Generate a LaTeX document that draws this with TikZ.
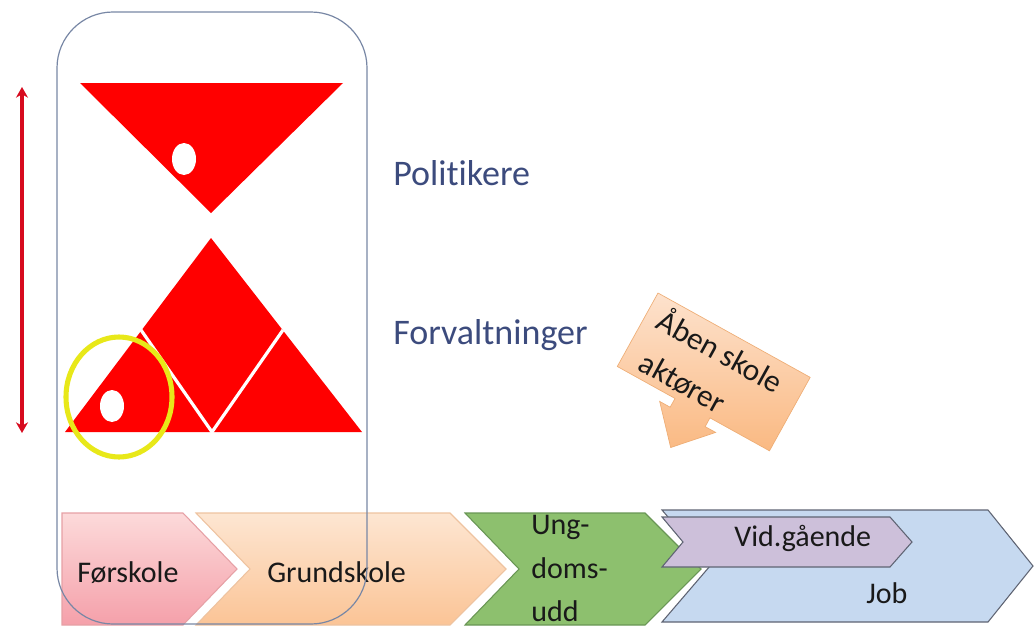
\documentclass[tikz,border=0pt]{standalone}
\usepackage{fontspec}
\setmainfont{Carlito}[Ligatures={NoCommon}]
\usetikzlibrary{arrows.meta}
\definecolor{shapered}{RGB}{255,0,0}
\definecolor{arrowred}{RGB}{215,10,30}
\definecolor{hiyellow}{RGB}{232,232,25}
\definecolor{labelblue}{RGB}{60,75,125}
\definecolor{frameline}{RGB}{120,135,165}
\definecolor{pinktop}{RGB}{252,218,218}
\definecolor{pinkbot}{RGB}{245,160,170}
\definecolor{pinkline}{RGB}{230,160,165}
\definecolor{peachtop}{RGB}{253,230,210}
\definecolor{peachbot}{RGB}{251,196,150}
\definecolor{peachline}{RGB}{238,195,160}
\definecolor{greenfill}{RGB}{141,192,110}
\definecolor{greenline}{RGB}{105,150,85}
\definecolor{bluefill}{RGB}{198,217,240}
\definecolor{purplefill}{RGB}{205,192,218}
\definecolor{grayline}{RGB}{95,100,115}
\definecolor{calltop}{RGB}{253,226,205}
\definecolor{callbot}{RGB}{250,185,130}
\definecolor{textdark}{RGB}{25,25,25}
\begin{document}
\begin{tikzpicture}[x=0.75pt,y=-0.75pt,
  bigtext/.style={text=labelblue,font=\fontsize{27}{32}\selectfont,inner sep=0pt,anchor=base west},
  chevtext/.style={text=textdark,font=\fontsize{22.5}{32}\selectfont,inner sep=0pt,anchor=base west},
  calltext/.style={text=textdark,font=\fontsize{23.5}{34}\selectfont,inner sep=0pt,align=left,anchor=north west,rotate=-29},
  chevline/.style={line width=0.8pt},
  redshape/.style={fill=shapered},
  whitehole/.style={fill=white},
]
\useasboundingbox (0,0) rectangle (1035,628);

% bottom chevrons
\shade[top color=pinktop,bottom color=pinkbot,draw=pinkline,chevline]
  (62,513) -- (183,513) -- (237,569) -- (183,625) -- (62,625) -- cycle;
\shade[top color=peachtop,bottom color=peachbot,draw=peachline,chevline]
  (196,513) -- (450,513) -- (506,569) -- (450,625) -- (196,625) -- (250,569) -- cycle;
\fill[greenfill,draw=greenline,chevline]
  (465,513) -- (645,513) -- (701,569) -- (645,625) -- (465,625) -- (519,569) -- cycle;
\fill[bluefill,draw=grayline,chevline]
  (662,510) -- (988,510) -- (1033,566) -- (988,622) -- (662,622) -- (710,566) -- cycle;
\fill[purplefill,draw=grayline,chevline]
  (662,517) -- (890,517) -- (912,542) -- (890,567) -- (662,567) -- (683,542) -- cycle;

\node[chevtext] (forskole) at (77,582) {Førskole};
\node[chevtext] (grundskole) at (267,582) {Grundskole};
\node[chevtext] (ung1) at (531,534) {Ung-};
\node[chevtext] (ung2) at (531,578) {doms-};
\node[chevtext] (ung3) at (531,621) {udd};
\node[chevtext] (vid) at (734,546) {Vid.gående};
\node[chevtext] (job) at (866,603) {Job};

% red shapes
\fill[redshape] (80,83) -- (343,83) -- (211,213) -- cycle;
\fill[whitehole] (184,159) ellipse [x radius=12, y radius=16];
\fill[redshape] (65,432) -- (362,432) -- (211,238) -- cycle;
\draw[white,line width=2.4pt] (141,330) -- (212,432) -- (283,330);
\fill[whitehole] (112,406) ellipse [x radius=12, y radius=16];
\draw[hiyellow,line width=3.8pt] (119,397) ellipse [x radius=53, y radius=60];

% frame
\draw[frameline,line width=0.9pt,rounded corners=42] (57,12) rectangle (367,624);

% red double arrow
\coordinate (atop) at (22,87);
\coordinate (abot) at (22,433);
\draw[arrowred,line width=3pt,{Stealth[length=8pt,width=9pt]}-{Stealth[length=8pt,width=9pt]}] (atop) -- (abot);

% labels
\node[bigtext] (pol) at (393,185) {Politikere};
\node[bigtext] (forv) at (393,344) {Forvaltninger};

% callout
\begin{scope}[shift={(658,293)},rotate=-29]
  \shade[top color=calltop,bottom color=callbot,draw=callbot!80!brown,line width=0.5pt]
    (0,0) -- (174,0) -- (174,84) -- (106,84) -- (106,94) -- (118,94) -- (86,129)
    -- (54,94) -- (66,94) -- (66,84) -- (0,84) -- cycle;
  \node[calltext] (call) at (13,5) {Åben skole\\\hspace*{4pt}aktører};
\end{scope}
\end{tikzpicture}
\end{document}
